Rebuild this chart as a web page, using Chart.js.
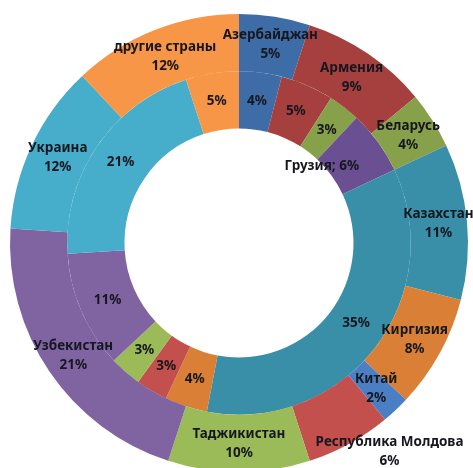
<!DOCTYPE html>
<html>
<head>
<meta charset="utf-8">
<script src="https://cdn.jsdelivr.net/npm/chart.js@4"></script>
<style>
html,body{margin:0;padding:0;background:#fff;overflow:hidden;width:473px;height:468px;}
#wrap{position:absolute;left:0;top:0;width:473px;height:486px;}
</style>
</head>
<body>
<div id="wrap"><canvas id="c"></canvas></div>
<script>
const categories = ['Азербайджан','Армения','Беларусь','Грузия','Казахстан','Киргизия','Китай','Республика Молдова','Таджикистан','Узбекистан','Украина','другие страны'];
const outerValues = [5,9,4,0,11,8,2,6,10,21,12,12];
const innerValues = [4,5,3,6,35,4,0,3,3,11,21,5];
const sliceColors = ['#3d6ca6','#a5403e','#87a14b','#6b4f93','#3a8fa8','#d98036','#4b7fc4','#c4504e','#9bbb59','#8064a2','#46adcb','#f79646'];

const labelPlugin = {
  id: 'sliceLabels',
  afterDatasetsDraw(chart, args, opts) {
    const ctx = chart.ctx;
    ctx.save();
    ctx.font = 'bold 13.5px "Noto Sans", sans-serif';
    ctx.fillStyle = '#17171f';
    ctx.textAlign = 'center';
    ctx.textBaseline = 'middle';
    chart.data.datasets.forEach((ds, di) => {
      const meta = chart.getDatasetMeta(di);
      meta.data.forEach((arc, i) => {
        const v = ds.data[i];
        if (!v) return;
        const p = arc.tooltipPosition();
        const off = (opts.offsets || {})[di + '-' + i] || [0, 0];
        const x = p.x + off[0], y = p.y + off[1];
        if (di === 0) {
          ctx.fillText(categories[i], x, y - 9.5);
          ctx.fillText(v + '%', x, y + 9.5);
        } else if (!outerValues[i]) {
          ctx.fillText(categories[i] + '; ' + v + '%', x, y);
        } else {
          ctx.fillText(v + '%', x, y);
        }
      });
    });
    ctx.restore();
  }
};

new Chart(document.getElementById('c'), {
  type: 'doughnut',
  data: {
    labels: categories,
    datasets: [
      { data: outerValues, backgroundColor: sliceColors, borderWidth: 0 },
      { data: innerValues, backgroundColor: sliceColors, borderWidth: 0 }
    ]
  },
  options: {
    responsive: true,
    maintainAspectRatio: false,
    animation: false,
    cutout: '50%',
    layout: { padding: { left: 10, right: 5, top: 14, bottom: 14 } },
    plugins: {
      legend: { display: false },
      tooltip: { enabled: false },
      sliceLabels: { offsets: { '0-7': [54, 33], '1-3': [-33, 7], '1-4': [4, -8] } }
    }
  },
  plugins: [labelPlugin]
});
</script>
</body>
</html>
